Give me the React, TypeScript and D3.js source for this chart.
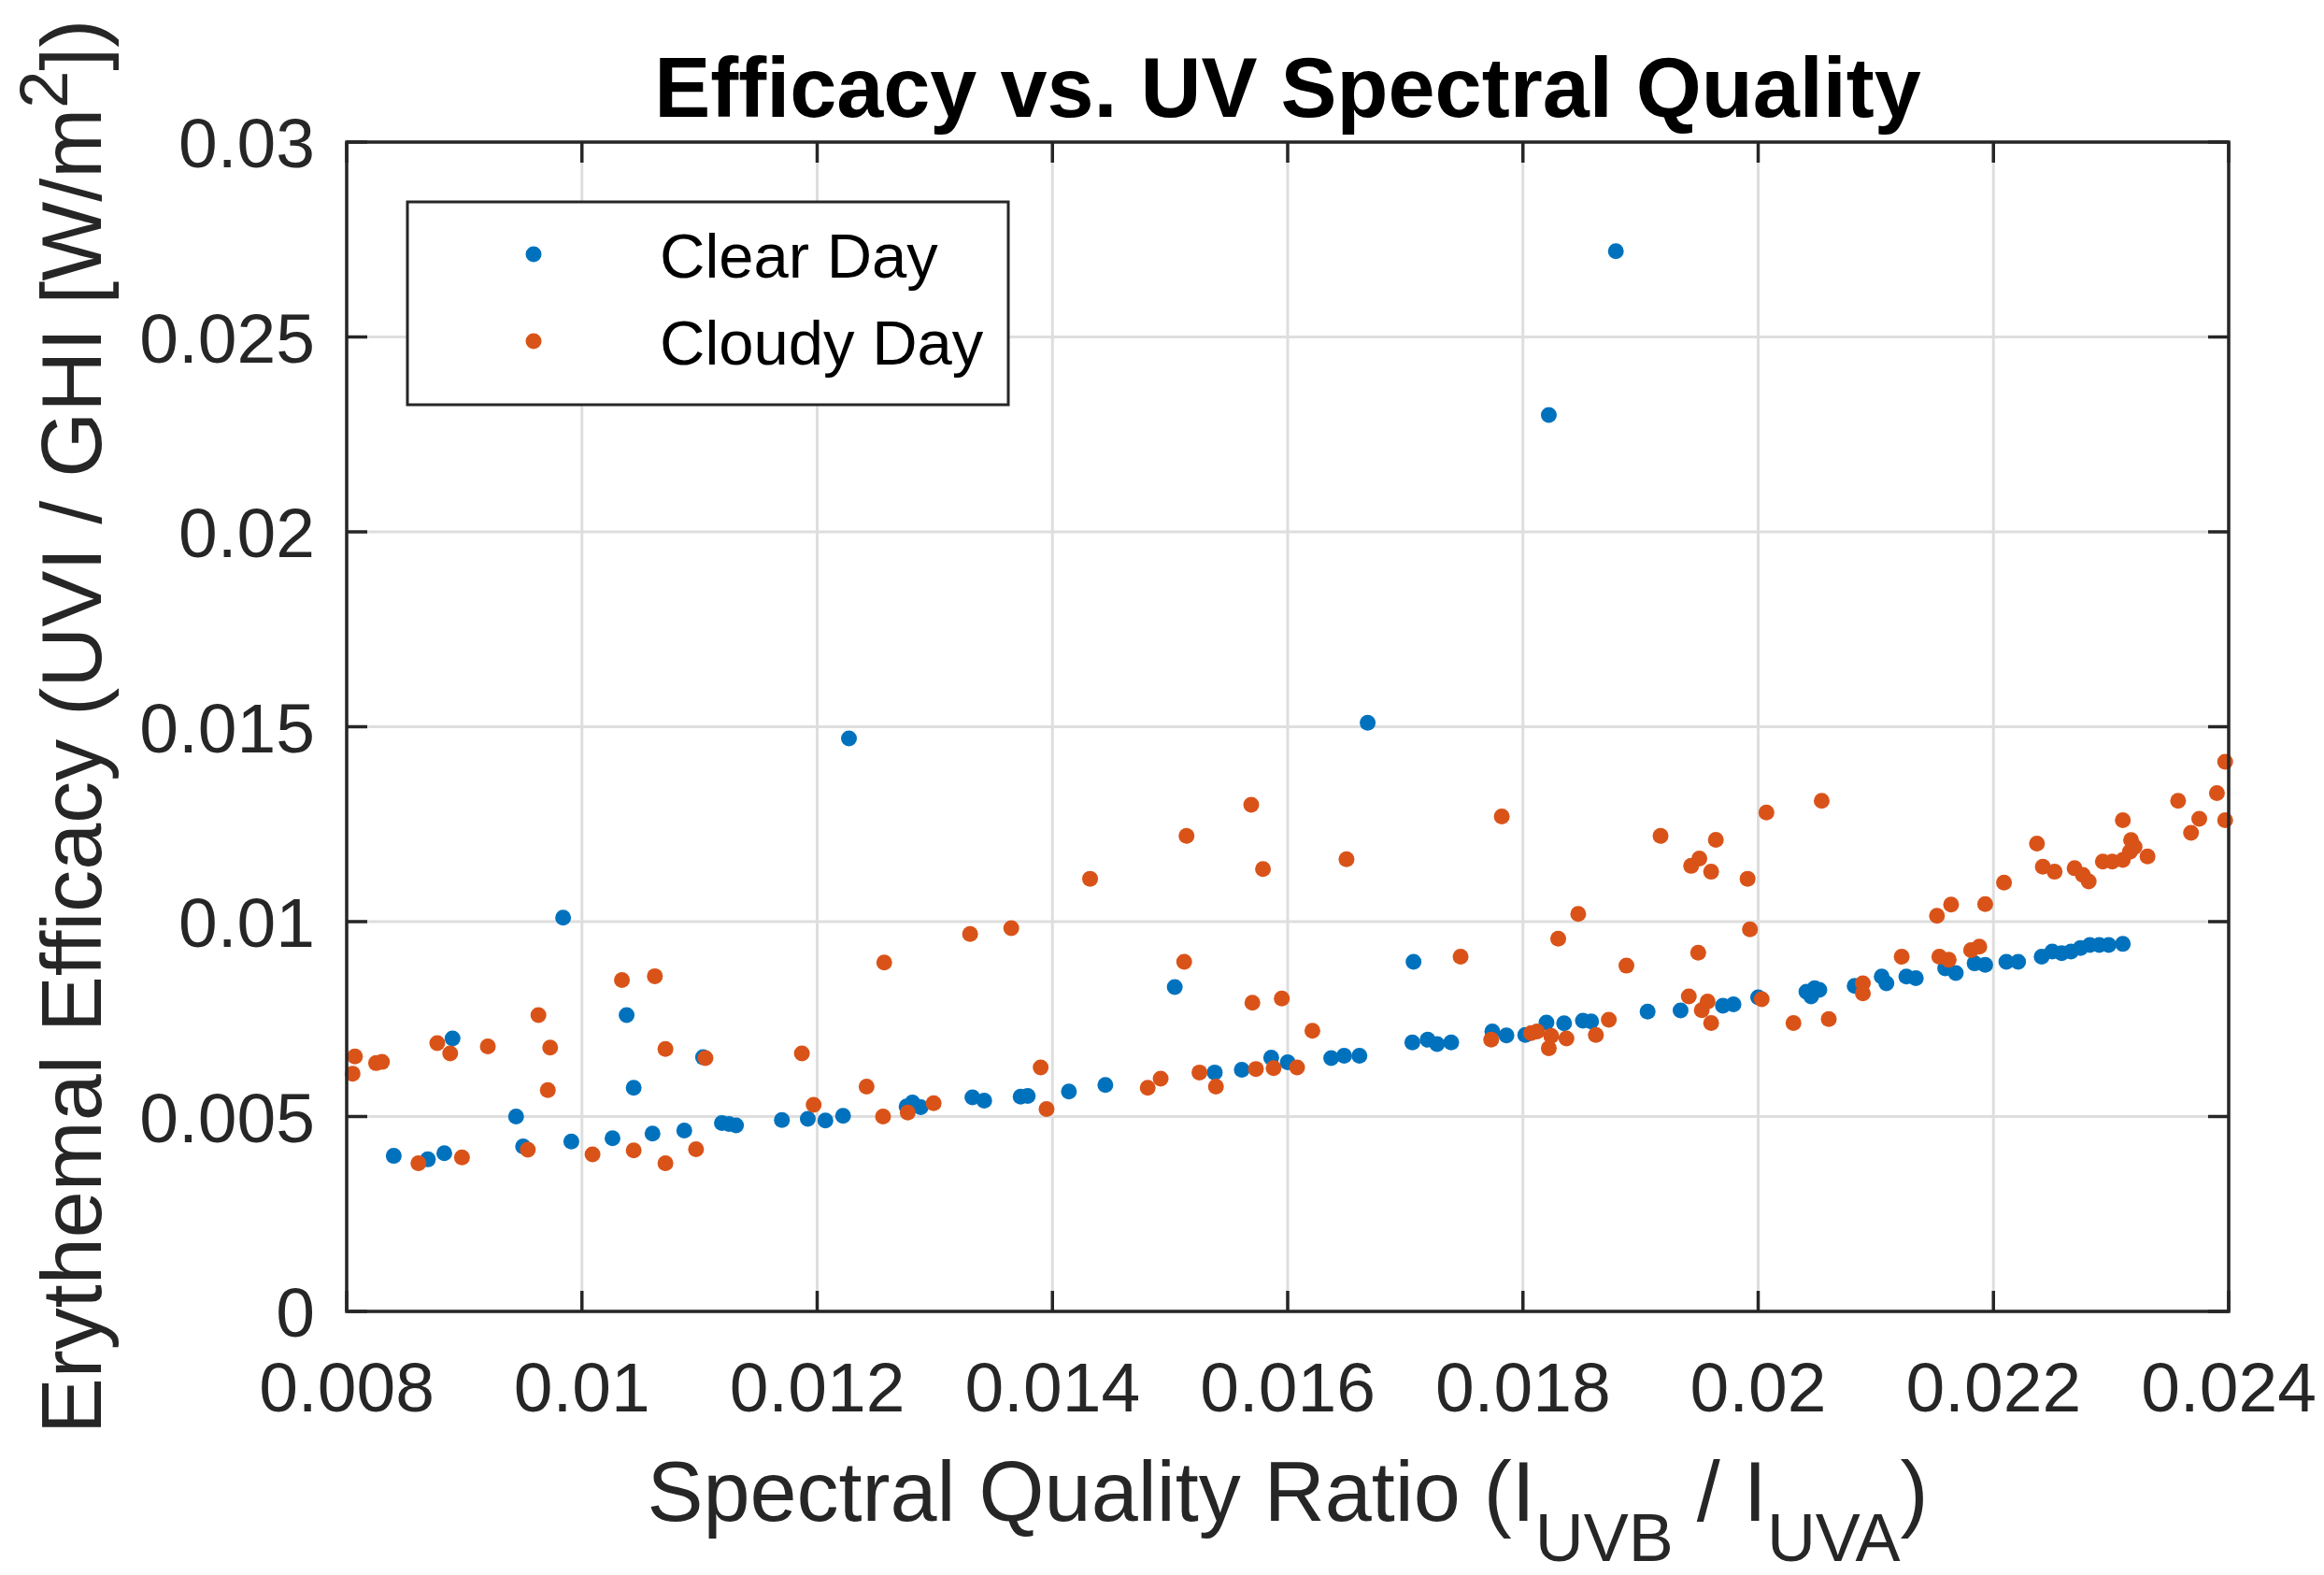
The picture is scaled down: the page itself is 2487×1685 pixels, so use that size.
import React from "react";
import * as d3 from "d3";

const clearX = [0.0084,0.00869,0.00883,0.0089,0.00944,0.0095,0.00984,0.00991,0.01026,0.01038,0.01044,0.0106,0.01087,0.01103,0.01119,0.01125,0.01131,0.0117,0.01192,0.01207,0.01222,0.01227,0.01276,0.01281,0.01288,0.01332,0.01342,0.01373,0.01379,0.01414,0.01445,0.01504,0.01538,0.01561,0.01586,0.016,0.01637,0.01648,0.01661,0.01668,0.01706,0.01707,0.01719,0.01727,0.01739,0.01774,0.01786,0.01802,0.0182,0.01822,0.01835,0.01851,0.01858,0.01879,0.01906,0.01934,0.0197,0.01979,0.02,0.02041,0.02045,0.02048,0.02052,0.02082,0.02105,0.02109,0.02126,0.02134,0.02159,0.02168,0.02184,0.02193,0.02211,0.02221,0.02241,0.0225,0.02258,0.02266,0.02274,0.02282,0.0229,0.02298,0.0231];
const clearY = [0.00399,0.0039,0.00406,0.007,0.005,0.00423,0.0101,0.00436,0.00444,0.0076,0.00574,0.00456,0.00464,0.00652,0.00483,0.00481,0.00477,0.00491,0.00494,0.0049,0.00502,0.0147,0.00526,0.00536,0.00524,0.00549,0.00541,0.00551,0.00553,0.00564,0.00581,0.00832,0.00613,0.0062,0.00651,0.00639,0.0065,0.00656,0.00656,0.0151,0.0069,0.00897,0.00697,0.00686,0.0069,0.00718,0.00708,0.00709,0.00741,0.023,0.00739,0.00746,0.00744,0.0272,0.00769,0.00772,0.00784,0.00788,0.00806,0.0082,0.00808,0.00829,0.00825,0.00835,0.00859,0.00842,0.00859,0.00855,0.0088,0.00868,0.00893,0.00889,0.00897,0.00897,0.0091,0.00923,0.00919,0.00923,0.00932,0.0094,0.0094,0.0094,0.00943];

const cloudyX = [0.00805,0.00807,0.00825,0.0083,0.00861,0.00877,0.00888,0.00898,0.0092,0.00954,0.00963,0.00971,0.00973,0.01009,0.01034,0.01044,0.01062,0.01071,0.01071,0.01097,0.01105,0.01187,0.01197,0.01242,0.01256,0.01257,0.01277,0.01299,0.0133,0.01365,0.0139,0.01395,0.01432,0.01481,0.01492,0.01512,0.01514,0.01525,0.01539,0.01569,0.0157,0.01573,0.01579,0.01588,0.01595,0.01608,0.01621,0.0165,0.01747,0.01773,0.01782,0.01807,0.01812,0.01822,0.01824,0.0183,0.01837,0.01847,0.01862,0.01873,0.01888,0.01917,0.01941,0.01943,0.01949,0.0195,0.01952,0.01957,0.0196,0.0196,0.01964,0.01991,0.01993,0.02003,0.02007,0.0203,0.02054,0.0206,0.02089,0.02089,0.02122,0.02152,0.02154,0.02162,0.02164,0.02181,0.02188,0.02193,0.02209,0.02237,0.02242,0.02252,0.02269,0.02276,0.02281,0.02293,0.02301,0.0231,0.0231,0.02316,0.02317,0.0232,0.02331,0.02357,0.02368,0.02375,0.0239,0.02397,0.02397];
const cloudyY = [0.0061,0.00654,0.00637,0.0064,0.0038,0.00688,0.00662,0.00395,0.0068,0.00415,0.0076,0.00568,0.00677,0.00403,0.0085,0.00413,0.0086,0.00673,0.0038,0.00416,0.0065,0.00662,0.0053,0.00577,0.005,0.00895,0.0051,0.00534,0.00968,0.00983,0.00626,0.00519,0.0111,0.00574,0.00597,0.00897,0.0122,0.00613,0.00577,0.013,0.00792,0.00622,0.01135,0.00624,0.00803,0.00626,0.0072,0.0116,0.0091,0.00697,0.0127,0.00714,0.00718,0.00675,0.00707,0.00956,0.007,0.0102,0.00709,0.00748,0.00887,0.0122,0.00808,0.01143,0.0092,0.01162,0.00773,0.00795,0.01128,0.0074,0.0121,0.0111,0.0098,0.00801,0.0128,0.0074,0.0131,0.0075,0.00842,0.00816,0.0091,0.01015,0.0091,0.00902,0.01044,0.00927,0.00936,0.01045,0.011,0.012,0.01141,0.01128,0.01137,0.0112,0.01103,0.01154,0.01154,0.01158,0.0126,0.01179,0.01209,0.01192,0.01167,0.0131,0.01228,0.01264,0.0133,0.0141,0.0126];

const xTicks = [0.008,0.01,0.012,0.014,0.016,0.018,0.02,0.022,0.024];
const xTickLabels = ["0.008","0.01","0.012","0.014","0.016","0.018","0.02","0.022","0.024"];
const yTicks = [0,0.005,0.01,0.015,0.02,0.025,0.03];
const yTickLabels = ["0","0.005","0.01","0.015","0.02","0.025","0.03"];
const seriesNames = ["Clear Day","Cloudy Day"];

const W = 2487, H = 1685;
const L = 371, R = 2385, T = 152, B = 1403;
const BLUE = "#0072BD", ORANGE = "#D95319";
const AX = "#262626", GRID = "#dedede";
const FONT = "'Liberation Sans', Arial, Helvetica, sans-serif";
const TL = 22;

export default function App() {
  const x = d3.scaleLinear().domain([0.008, 0.024]).range([L, R]);
  const y = d3.scaleLinear().domain([0, 0.03]).range([B, T]);
  const clear = clearX.map((v, i) => [v, clearY[i]]);
  const cloudy = cloudyX.map((v, i) => [v, cloudyY[i]]);
  const r = 8.5;
  return (
    <svg width={W} height={H} style={{ position: "fixed", left: 0, top: 0, background: "#fff" }} fontFamily={FONT}>
      <rect x={0} y={0} width={W} height={H} fill="#fff" />
      {xTicks.map((t) => (
        <line key={"gx" + t} x1={x(t)} x2={x(t)} y1={T} y2={B} stroke={GRID} strokeWidth={3} />
      ))}
      {yTicks.map((t) => (
        <line key={"gy" + t} x1={L} x2={R} y1={y(t)} y2={y(t)} stroke={GRID} strokeWidth={3} />
      ))}
      {clear.map((d, i) => (
        <circle key={"c" + i} cx={x(d[0])} cy={y(d[1])} r={r} fill={BLUE} />
      ))}
      {cloudy.map((d, i) => (
        <circle key={"o" + i} cx={x(d[0])} cy={y(d[1])} r={r} fill={ORANGE} />
      ))}
      {xTicks.map((t) => (
        <g key={"tx" + t}>
          <line x1={x(t)} x2={x(t)} y1={B} y2={B - TL} stroke={AX} strokeWidth={3.5} />
          <line x1={x(t)} x2={x(t)} y1={T} y2={T + TL} stroke={AX} strokeWidth={3.5} />
        </g>
      ))}
      {yTicks.map((t) => (
        <g key={"ty" + t}>
          <line x1={L} x2={L + TL} y1={y(t)} y2={y(t)} stroke={AX} strokeWidth={3.5} />
          <line x1={R} x2={R - TL} y1={y(t)} y2={y(t)} stroke={AX} strokeWidth={3.5} />
        </g>
      ))}
      <rect x={L} y={T} width={R - L} height={B - T} fill="none" stroke={AX} strokeWidth={3.5} />
      {xTicks.map((t, i) => (
        <text key={"lx" + t} x={x(t)} y={1510} textAnchor="middle" fontSize={75} fill={AX}>
          {xTickLabels[i]}
        </text>
      ))}
      {yTicks.map((t, i) => (
        <text key={"ly" + t} x={337} y={y(t) + 27} textAnchor="end" fontSize={75} fill={AX}>
          {yTickLabels[i]}
        </text>
      ))}
      <text x={(L + R) / 2} y={125} textAnchor="middle" fontSize={90} fontWeight="bold" fill="#000">
        Efficacy vs. UV Spectral Quality
      </text>
      <text x={(L + R) / 2} y={1627} textAnchor="middle" fontSize={90} fill={AX}>
        Spectral Quality Ratio (I
        <tspan fontSize={72} dy={43}>UVB</tspan>
        <tspan dy={-43}> / I</tspan>
        <tspan fontSize={72} dy={43}>UVA</tspan>
        <tspan dy={-43}>)</tspan>
      </text>
      <text transform={`translate(108, ${(T + B) / 2}) rotate(-90)`} textAnchor="middle" fontSize={90} fill={AX}>
        Erythemal Efficacy (UVI / GHI [W/m
        <tspan fontSize={72} dy={-36}>2</tspan>
        <tspan dy={36}>])</tspan>
      </text>
      <rect x={436} y={216} width={643} height={217} fill="#fff" stroke={AX} strokeWidth={3} />
      <circle cx={571} cy={272} r={r} fill={BLUE} />
      <circle cx={571} cy={365} r={r} fill={ORANGE} />
      <text x={706} y={297} fontSize={67} fill="#000">{seriesNames[0]}</text>
      <text x={706} y={390} fontSize={67} fill="#000">{seriesNames[1]}</text>
    </svg>
  );
}
